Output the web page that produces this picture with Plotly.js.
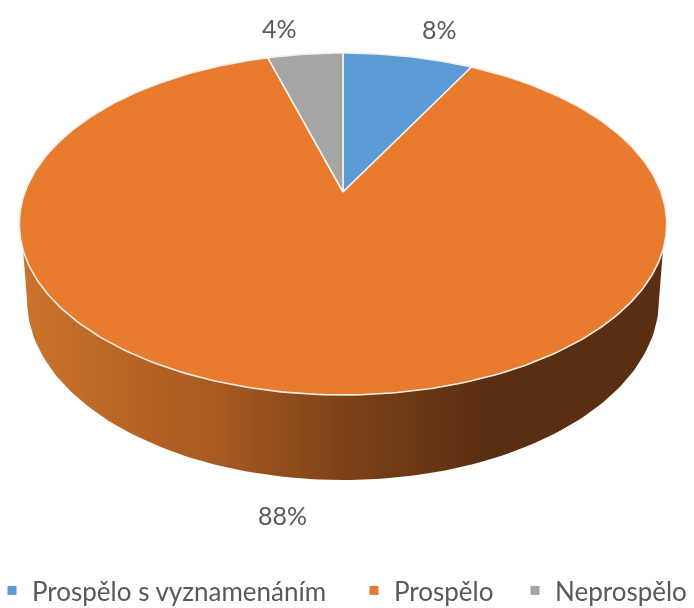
<!DOCTYPE html>
<html><head><meta charset="utf-8">
<script src="https://cdn.plot.ly/plotly-3.0.1.min.js"></script>
<style>html,body{margin:0;padding:0;background:#fff;overflow:hidden;height:608px}#w{width:694px;height:608px;overflow:hidden}#c{width:694px;height:614px;filter:blur(0.45px)}</style>
</head><body><div id="w"><div id="c"></div></div>
<script>
const categories = ['Prospělo s vyznamenáním', 'Prospělo', 'Neprospělo'];
const values = [7.8, 87.7, 4.5];
const valueLabels = ['8%', '88%', '4%'];
const colors = ['#5B9BD5', '#E97B2F', '#A5A5A5'];

// perspective of the tilted disc
const P = 0.187;
const W = 694, H = 614, A = 318, B = 165, CX = 343, CY = 192;
const project = (t) => {
  const u = Math.sin(t), v = Math.cos(t), w = 1 + P * v;
  return [u / w, v / w];
};
const total = values.reduce((a, b) => a + b, 0);
const traces = [];

// side wall: the front part of the rim and a lower copy of the disc
const rimStart = Math.PI * 0.5 + 0.336, rimEnd = Math.PI * 1.5 - 0.336;
const wx = [], wy = [], rimx = [], rimy = [];
for (let i = 0; i <= 120; i++) {
  const p = project(rimEnd - (rimEnd - rimStart) * i / 120);
  rimx.push(p[0]); rimy.push(p[1]);
}
const bottomRx = 316 / A, bottomRy = 180 / B, bottomCy = -108 / B;
for (let i = 0; i <= 120; i++) {
  const t = Math.PI * i / 120;
  wx.push(bottomRx * Math.cos(t)); wy.push(bottomCy - bottomRy * Math.sin(t));
}
const wallX = wx.concat(rimx).concat([wx[0]]);
const wallY = wy.concat(rimy).concat([wy[0]]);
traces.push({
  type: 'scatter', mode: 'lines', x: wallX, y: wallY, fill: 'toself', showlegend: false,
  hoverinfo: 'skip', line: {width: 0, color: 'rgba(0,0,0,0)'},
  fillgradient: {type: 'horizontal', colorscale: [
    [0, '#CB732C'], [0.3, '#A85A20'], [0.5, '#7E4218'], [0.72, '#5A2E11'], [1, '#5A2E11']]}
});

// top slices
let acc = 0;
values.forEach((val, k) => {
  const a0 = acc / total * 2 * Math.PI; acc += val;
  const a1 = acc / total * 2 * Math.PI;
  const n = Math.max(12, Math.round(val * 4));
  const x = [0], y = [0];
  for (let i = 0; i <= n; i++) {
    const p = project(a0 + (a1 - a0) * i / n);
    x.push(p[0]); y.push(p[1]);
  }
  x.push(0); y.push(0);
  traces.push({
    type: 'scatter', mode: 'lines', x, y, fill: 'toself', fillcolor: colors[k],
    line: {color: '#F4EFEA', width: 1.6}, showlegend: false, name: categories[k],
    text: valueLabels[k], hoverinfo: 'name+text'
  });
});

// legend entries
const legendWidths = [325, 124, 135];
categories.forEach((c, k) => traces.push({
  type: 'scatter', mode: 'markers', x: [null], y: [null], name: c, legendwidth: legendWidths[k],
  marker: {symbol: 'square', size: 9, color: colors[k]}
}));

const labelFont = {family: 'Lato, "Noto Sans", sans-serif', size: 25, color: '#595959'};
const legendFont = {family: 'Lato, "Noto Sans", sans-serif', size: 26, color: '#595959'};
const labelPos = [[439, 29], [282, 515], [279, 28]];
const annotations = valueLabels.map((t, k) => ({
  text: t, showarrow: false, font: labelFont, xref: 'paper', yref: 'paper',
  x: labelPos[k][0] / W, y: 1 - labelPos[k][1] / H, xanchor: 'center', yanchor: 'middle'
}));

const layout = {
  width: W, height: H, margin: {l: 0, r: 0, t: 0, b: 0}, paper_bgcolor: '#fff', plot_bgcolor: '#fff',
  xaxis: {visible: false, range: [-CX / A, (W - CX) / A], fixedrange: true},
  yaxis: {visible: false, range: [(CY - H) / B, CY / B], fixedrange: true},
  annotations,
  showlegend: true,
  legend: {orientation: 'h', x: 0, xanchor: 'left', y: 0, yanchor: 'bottom', traceorder: 'normal', indentation: -8,
    font: legendFont, bgcolor: 'rgba(0,0,0,0)', tracegroupgap: 0, itemclick: false, itemdoubleclick: false}
};
Plotly.newPlot('c', traces, layout, {displayModeBar: false, staticPlot: true});
</script></body></html>
